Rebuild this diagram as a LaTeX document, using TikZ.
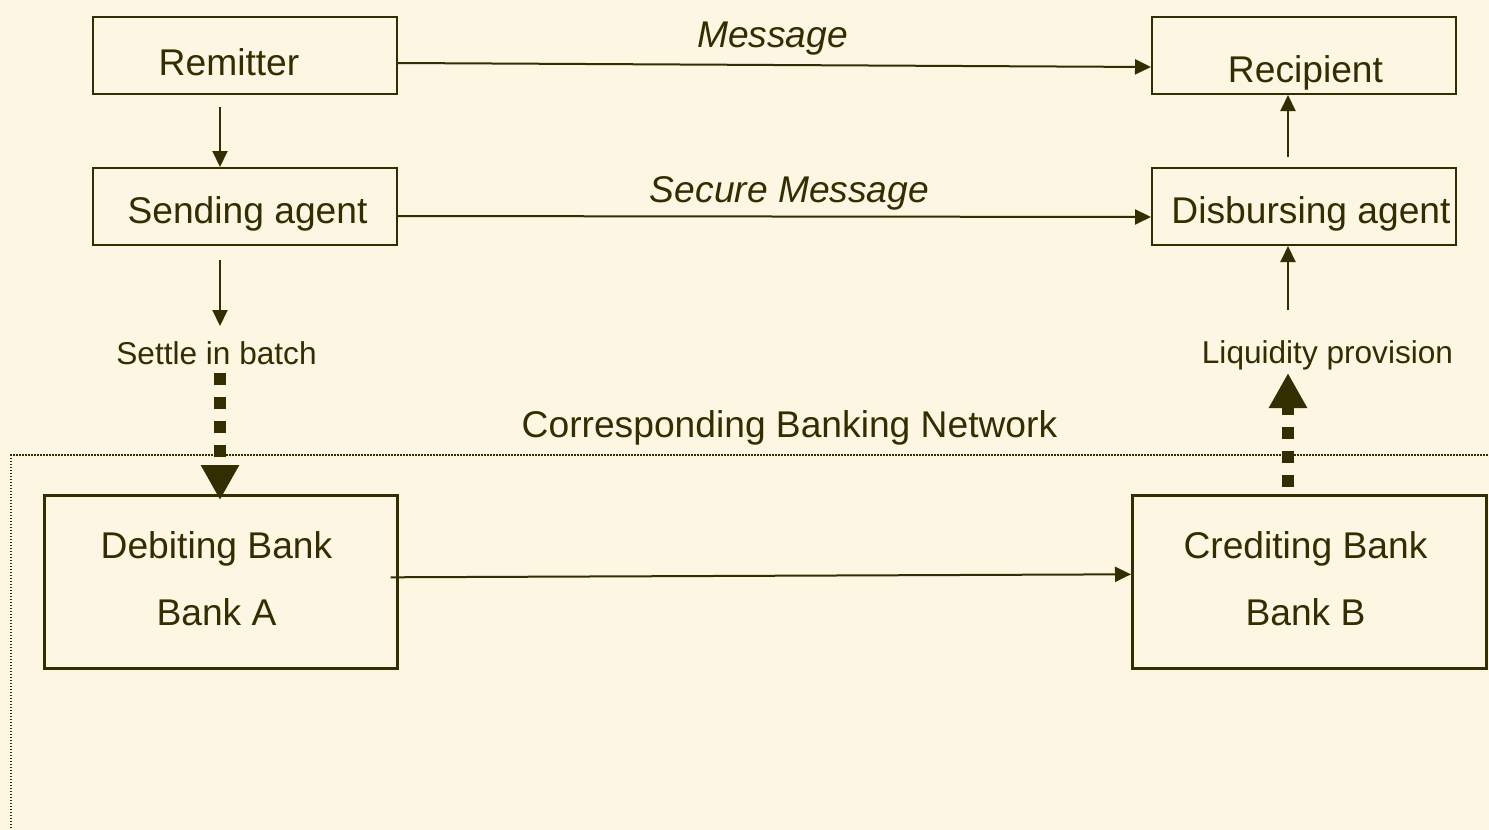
\documentclass[tikz,border=0pt]{standalone}
\usepackage{fontspec}
\setmainfont{Liberation Sans}
\usetikzlibrary{arrows.meta}
\definecolor{bg}{RGB}{253,246,226}
\definecolor{ink}{RGB}{51,46,0}
\tikzset{
  box/.style={draw=ink, line width=2pt, inner sep=0pt, anchor=north west},
  bigbox/.style={draw=ink, line width=2.6pt, inner sep=0pt, anchor=north west},
  lbl/.style={text=ink, anchor=base, inner sep=0pt, font=\fontsize{37.2}{44}\selectfont},
  small/.style={text=ink, anchor=base, inner sep=0pt, font=\fontsize{31.6}{38}\selectfont},
  conn/.style={draw=ink, line width=2pt, -{Triangle[length=16pt,width=15pt]}},
  fat/.style={draw=ink, line width=12pt, dash pattern=on 12pt off 12pt, -{Triangle[length=35pt,width=36pt]}}
}
\begin{document}
\begin{tikzpicture}[x=1pt,y=-1pt]
\useasboundingbox[fill=bg] (0,0) rectangle (1489,830);
% network area (dotted)
\coordinate (nwb) at (11,840);
\coordinate (nwc) at (11,455);
\coordinate (nwr) at (1500,455);
\draw[ink, line width=1.5pt, dash pattern=on 1.5pt off 1.5pt] (nwb) -- (nwc) -- (nwr);
% boxes
\node[box, minimum width=304pt, minimum height=77pt] (rem) at (92,16) {};
\node[box, minimum width=304pt, minimum height=77pt] (rec) at (1151,16) {};
\node[box, minimum width=304pt, minimum height=77pt] (snd) at (92,167) {};
\node[box, minimum width=304pt, minimum height=77pt] (dis) at (1151,167) {};
\node[bigbox, minimum width=353pt, minimum height=173pt] (deb) at (43,494) {};
\node[bigbox, minimum width=354pt, minimum height=173pt] (cre) at (1131,494) {};
% texts
\node[lbl] (remt) at (229,75) {Remitter};
\node[lbl] (rect) at (1305.5,82) {Recipient};
\node[lbl] (sndt) at (247.5,223) {Sending agent};
\node[lbl] (dist) at (1311,223) {Disbursing agent};
\node[lbl] (debt1) at (216.5,558) {Debiting Bank};
\node[lbl] (debt2) at (216.5,625) {Bank A};
\node[lbl] (cret1) at (1305.5,558) {Crediting Bank};
\node[lbl] (cret2) at (1305.5,625) {Bank B};
\node[lbl, font=\fontsize{37.2}{44}\selectfont\itshape] (msg) at (772.5,47) {Message};
\node[lbl, font=\fontsize{37.2}{44}\selectfont\itshape] (smsg) at (789.5,202) {Secure Message};
\node[lbl] (net) at (789.5,437) {Corresponding Banking Network};
\node[small] (settle) at (216.5,364) {Settle in batch};
\node[small] (liq) at (1327.5,363) {Liquidity provision};
% horizontal connectors
\draw[conn] ([yshift=-7.5pt]rem.east) -- ([yshift=-11.5pt]rec.west);
\draw[conn] ([yshift=-9.5pt]snd.east) -- ([yshift=-10.5pt]dis.west);
\draw[conn] ([xshift=-8pt,yshift=4.5pt]deb.east) -- ([yshift=7.5pt]cre.west);
% vertical thin connectors
\coordinate (a1) at (220,107);
\coordinate (a2) at (220,260);
\coordinate (a3) at (1288,310);
\coordinate (a4) at (1288,157);
\draw[conn] (a1) -- (a1 |- snd.north);
\draw[conn] (a2) -- (220,326);
\draw[conn] (a3) -- (a3 |- dis.south);
\draw[conn] (a4) -- (a4 |- rec.south);
% thick dashed connectors
\draw[fat] (220,373) -- (220,500);
\draw[fat, dash phase=17pt] (1288 ,494) -- (1288,373);
\end{tikzpicture}
\end{document}
